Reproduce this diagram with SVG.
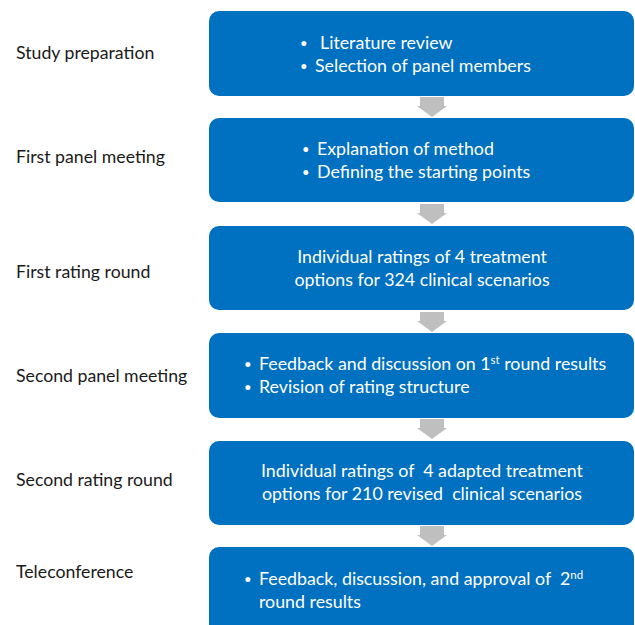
<svg xmlns="http://www.w3.org/2000/svg" width="635" height="625" viewBox="0 0 635 625">
<defs>
<style>
.box{fill:#0070C0;}
.lbl{font-family:Lato,"Open Sans","Liberation Sans",sans-serif;font-size:17.7px;fill:#1a1a1a;}
.t{font-family:Lato,"Open Sans","Liberation Sans",sans-serif;font-size:17.8px;fill:#ffffff;}
.b{font-size:13px;}
.c{text-anchor:middle;}
.arr{fill:#BFBFBF;}
</style>
<path id="arrow" d="M-12,0 H12 V9 H15 L0,20 L-15,9 H-12 Z"/>
</defs>
<rect width="635" height="625" fill="#ffffff"/>
<g id="connectors">
<use href="#arrow" class="arr" x="432" y="97"/>
<use href="#arrow" class="arr" x="432" y="204"/>
<use href="#arrow" class="arr" x="432" y="312"/>
<use href="#arrow" class="arr" x="432" y="419"/>
<use href="#arrow" class="arr" x="432" y="526"/>
</g>
<g id="labels">
<text class="lbl" x="16" y="59">Study preparation</text>
<text class="lbl" x="16" y="163">First panel meeting</text>
<text class="lbl" x="16" y="278">First rating round</text>
<text class="lbl" x="16" y="382">Second panel meeting</text>
<text class="lbl" x="16" y="486">Second rating round</text>
<text class="lbl" x="16" y="578">Teleconference</text>
</g>
<g id="n1">
<rect class="box" x="209" y="11" width="425" height="85" rx="10"/>
<text class="t b" x="300" y="48">•</text><text class="t" x="320" y="49">Literature review</text>
<text class="t b" x="300" y="71">•</text><text class="t" x="315" y="72">Selection of panel members</text>
</g>
<g id="n2">
<rect class="box" x="209" y="118" width="425" height="84" rx="10"/>
<text class="t b" x="302" y="154">•</text><text class="t" x="317" y="155">Explanation of method</text>
<text class="t b" x="302" y="177">•</text><text class="t" x="317" y="178">Defining the starting points</text>
</g>
<g id="n3">
<rect class="box" x="209" y="226" width="425" height="84" rx="10"/>
<text class="t c" x="422" y="263">Individual ratings of 4 treatment</text>
<text class="t c" x="422" y="286">options for 324 clinical scenarios</text>
</g>
<g id="n4">
<rect class="box" x="209" y="333" width="425" height="85" rx="10"/>
<text class="t b" x="244" y="369">•</text><text class="t" x="259" y="370">Feedback and discussion on 1<tspan font-size="11.5" dy="-6">st</tspan><tspan dy="6"> round results</tspan></text>
<text class="t b" x="244" y="392">•</text><text class="t" x="259" y="393">Revision of rating structure</text>
</g>
<g id="n5">
<rect class="box" x="209" y="441" width="425" height="84" rx="10"/>
<text class="t c" x="422" y="477" xml:space="preserve">Individual ratings of  4 adapted treatment</text>
<text class="t c" x="422" y="500" xml:space="preserve">options for 210 revised  clinical scenarios</text>
</g>
<g id="n6">
<rect class="box" x="209" y="547" width="425" height="95" rx="10"/>
<text class="t b" x="244" y="584">•</text><text class="t" x="259" y="585" xml:space="preserve">Feedback, discussion, and approval of  2<tspan font-size="11.5" dy="-6">nd</tspan></text>
<text class="t" x="259" y="608">round results</text>
</g>
</svg>
